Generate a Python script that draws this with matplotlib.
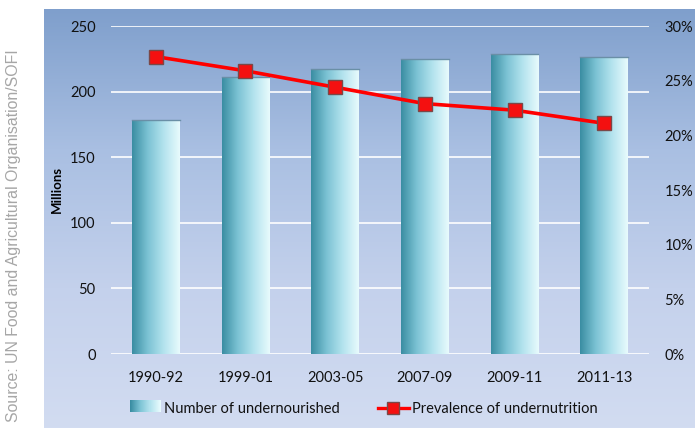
import numpy as np
import matplotlib
matplotlib.use("Agg")
import matplotlib.pyplot as plt
from matplotlib.colors import LinearSegmentedColormap
from matplotlib.legend_handler import HandlerBase
from matplotlib.patches import Rectangle
from matplotlib.lines import Line2D

categories = ["1990-92", "1999-01", "2003-05", "2007-09", "2009-11", "2011-13"]
undernourished = [178, 211, 217, 225, 229, 226]          # millions
prevalence = [27.2, 25.9, 24.4, 22.9, 22.3, 21.1]        # percent
left_ticks = [0, 50, 100, 150, 200, 250]
right_ticks = [0, 5, 10, 15, 20, 25, 30]
source_text = "Source: UN Food and Agricultural Organisation/SOFI"

W, H = 695, 428
fig = plt.figure(figsize=(W / 100, H / 100), dpi=100)
fig.patch.set_facecolor("white")

font = "Lato"

# background gradient panel
bg = fig.add_axes([44 / W, 0, 1 - 44 / W, 1 - 9 / H], zorder=0)
bg_cmap = LinearSegmentedColormap.from_list("bg", ["#d2dcf1", "#c4d1ec", "#a9bfe2", "#7f9fcc"])
grad = np.linspace(0, 1, 256).reshape(-1, 1)
bg.imshow(grad, aspect="auto", cmap=bg_cmap, origin="lower", extent=[0, 1, 0, 1])
bg.set_axis_off()

# source text
fig.text(14 / W, 1 - 236 / H, source_text, rotation=90, ha="center", va="center",
         fontsize=11.4, color="#a6a6a6", family="Liberation Sans")

ax = fig.add_axes([111 / W, 1 - 354 / H, (649 - 111) / W, (354 - 26) / H], zorder=1)
ax.patch.set_alpha(0)
x = np.arange(len(categories))
ax.set_xlim(-0.5, len(categories) - 0.5)
ax.set_ylim(0, 250)
ax.set_yticks(left_ticks)
for y in left_ticks:
    ax.axhline(y, color="white", lw=1.2, zorder=1)

bar_cmap = LinearSegmentedColormap.from_list("bar", ["#3a8da2", "#7cc3d4", "#b4e3ee", "#e8fbfd"])
bars = ax.bar(x, undernourished, width=0.53, color="#8fcfdf", edgecolor="none", zorder=2)
hgrad = np.linspace(0, 1, 256).reshape(1, -1)
for b in bars:
    x0, w, h = b.get_x(), b.get_width(), b.get_height()
    im = ax.imshow(hgrad, cmap=bar_cmap, aspect="auto", extent=[x0, x0 + w, 0, h], zorder=3)
    im.set_clip_path(b)
    ax.plot([x0, x0 + w], [h, h], color="#6a8fa6", lw=1.0, zorder=4)
ax.set_xlim(-0.5, len(categories) - 0.5)
ax.set_ylim(0, 250)

ax.set_xticks(x)
ax.set_xticklabels(categories, family=font, fontsize=10.5, color="#111111")
ax.tick_params(axis="x", length=0, pad=12)
ax.tick_params(axis="y", length=0, pad=11)
for lab in ax.get_yticklabels():
    lab.set_family(font)
    lab.set_fontsize(10.5)
    lab.set_color("#111111")
for s in ax.spines.values():
    s.set_visible(False)

fig.text(57 / W, 1 - 189 / H, "Millions", rotation=90, ha="center", va="center",
         fontsize=9.5, fontweight="bold", family=font, color="#000000")

ax2 = ax.twinx()
ax2.set_zorder(2)
ax2.patch.set_alpha(0)
ax2.set_ylim(0, 30)
ax2.set_yticks(right_ticks)
ax2.set_yticklabels([f"{t}%" for t in right_ticks], family=font, fontsize=10.5, color="#111111")
ax2.tick_params(axis="y", length=0, pad=11)
for s in ax2.spines.values():
    s.set_visible(False)
ax2.plot(x, prevalence, color="#ff0000", lw=2.6, marker="s", markersize=10,
         markerfacecolor="#f41010", markeredgecolor="#7a4848", markeredgewidth=1.0, zorder=5)


class GradientHandler(HandlerBase):
    def create_artists(self, legend, orig_handle, xdescent, ydescent, width, height, fontsize, trans):
        n = 30
        arts = []
        for i in range(n):
            r = Rectangle((xdescent + width * i / n, ydescent), width / n + 0.3, height,
                          facecolor=bar_cmap(i / (n - 1)), edgecolor="none", transform=trans)
            arts.append(r)
        return arts


bar_handle = Rectangle((0, 0), 1, 1)
line_handle = Line2D([], [], color="#ff0000", lw=2.4, marker="s", markersize=8,
                     markerfacecolor="#f41010", markeredgecolor="#7a4848", markeredgewidth=1.0)
leg = fig.legend([bar_handle, line_handle],
                 ["Number of undernourished", "Prevalence of undernutrition"],
                 handler_map={Rectangle: GradientHandler()},
                 loc="center", bbox_to_anchor=(364 / W, 1 - 409 / H), ncol=2,
                 frameon=False, prop={"family": font, "size": 10.5},
                 handlelength=2.1, handletextpad=0.25, columnspacing=2.6, handleheight=0.9)
for t in leg.get_texts():
    t.set_color("#111111")

fig.savefig("out.png", dpi=100)
